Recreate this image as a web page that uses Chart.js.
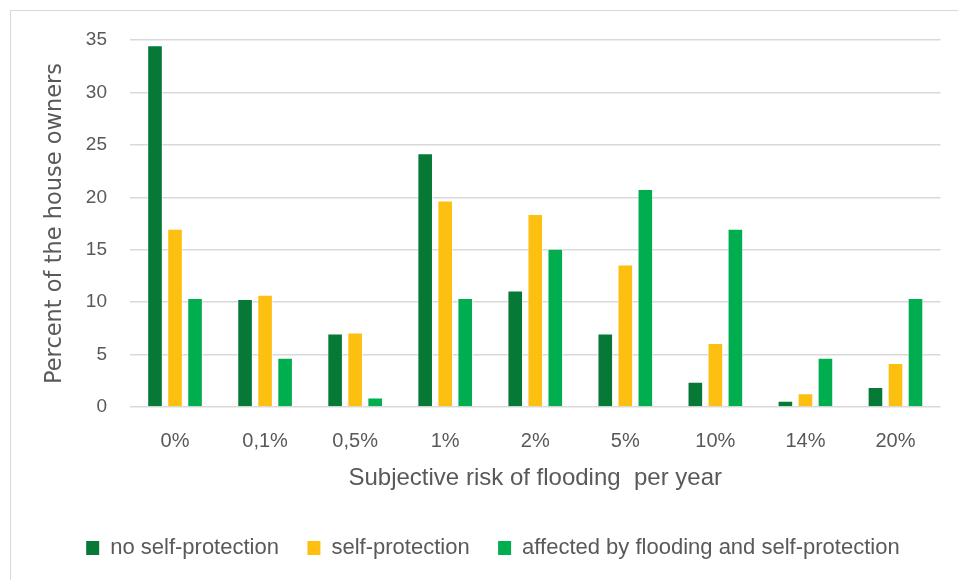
<!DOCTYPE html>
<html>
<head>
<meta charset="utf-8">
<script src="https://cdn.jsdelivr.net/npm/chart.js@4/dist/chart.umd.min.js"></script>
<style>
  html, body { margin: 0; padding: 0; background: #ffffff; overflow: hidden; }
  #wrap { position: relative; width: 958px; height: 580px; }
  #frame { position: absolute; left: 10px; top: 10px; width: 960px; height: 590px; border: 1px solid #d9d9d9; box-sizing: border-box; }
  #c { position: absolute; left: 0; top: 0; }
</style>
</head>
<body>
<div id="wrap">
  <div id="frame"></div>
  <canvas id="c" width="958" height="580"></canvas>
</div>
<script>
// Subjective flood risk categories (x axis)
const categories = ['0%', '0,1%', '0,5%', '1%', '2%', '5%', '10%', '14%', '20%'];

// Percent of house owners per group
const noSelfProtection = [34.5, 10.3, 7.0, 24.2, 11.1, 7.0, 2.4, 0.6, 1.9];
const selfProtection = [17.0, 10.7, 7.1, 19.7, 18.4, 13.6, 6.1, 1.3, 4.2];
const affectedAndSelfProtection = [10.4, 4.7, 0.9, 10.4, 15.1, 20.8, 17.0, 4.7, 10.4];

const seriesNames = ['no self-protection', 'self-protection', 'affected by flooding and self-protection'];
const yTicks = [0, 5, 10, 15, 20, 25, 30, 35];

const textColor = '#595959';
const sans = '"Liberation Sans", Arial, sans-serif';

const barStyle = { borderColor: 'rgba(255,255,255,0.6)', borderWidth: 1, borderSkipped: 'bottom',
                   categoryPercentage: 0.667, barPercentage: 0.78 };

new Chart(document.getElementById('c'), {
  type: 'bar',
  data: {
    labels: categories,
    datasets: [
      Object.assign({ label: seriesNames[0], data: noSelfProtection, backgroundColor: '#077937' }, barStyle),
      Object.assign({ label: seriesNames[1], data: selfProtection, backgroundColor: '#fec010' }, barStyle),
      Object.assign({ label: seriesNames[2], data: affectedAndSelfProtection, backgroundColor: '#00ae4f' }, barStyle)
    ]
  },
  options: {
    responsive: false,
    animation: false,
    events: [],
    layout: { padding: { top: 40, right: 17.5, bottom: 11, left: 45.3 } },
    plugins: {
      tooltip: { enabled: false },
      legend: {
        position: 'bottom',
        labels: {
          boxWidth: 13,
          boxHeight: 14,
          padding: 28.5,
          color: textColor,
          font: { family: sans, size: 22 },
          // solid swatches without the bar outline
          generateLabels: (chart) => Chart.defaults.plugins.legend.labels.generateLabels(chart)
            .map(item => Object.assign(item, { lineWidth: 0, strokeStyle: 'transparent' }))
        }
      }
    },
    scales: {
      x: {
        grid: { display: false, drawTicks: false },
        border: { display: false },
        ticks: { color: textColor, padding: 22, font: { family: sans, size: 20 } },
        title: {
          display: true,
          text: 'Subjective risk of flooding  per year',
          color: textColor,
          font: { family: sans, size: 24 },
          padding: { top: 0, bottom: 16 }
        },
        afterFit: (axis) => { axis.height = 101.5; }
      },
      y: {
        min: 0,
        max: 35,
        afterBuildTicks: (axis) => { axis.ticks = yTicks.map(v => ({ value: v })); },
        grid: { color: '#d9d9d9', lineWidth: 1.5, drawTicks: false },
        border: { display: false },
        ticks: { color: textColor, padding: 23, font: { family: sans, size: 19 } },
        title: {
          display: true,
          text: 'Percent of the house owners',
          color: textColor,
          font: { family: '"DejaVu Sans", sans-serif', size: 22.5, lineHeight: 0.92 },
          padding: { top: 0, bottom: 0 }
        },
        afterFit: (axis) => { axis.width = 84.7; }
      }
    }
  }
});
</script>
</body>
</html>
